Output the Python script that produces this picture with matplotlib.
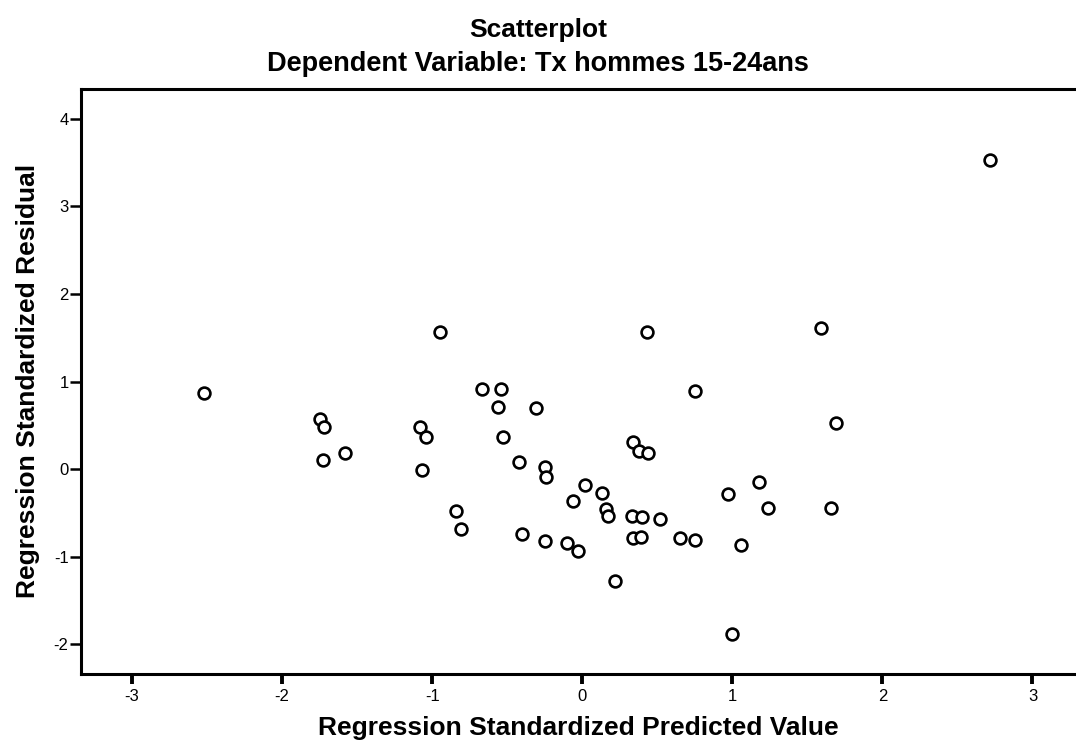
import numpy as np
import matplotlib.pyplot as plt

plt.rcParams['font.family'] = ['Liberation Sans', 'DejaVu Sans']
plt.rcParams['axes.unicode_minus'] = False

# standardized predicted values (x) and standardized residuals (y)
pred = [-2.52, -1.75, -1.72, -1.73, -1.58, -1.08, -1.04, -1.07, -0.95, -0.84,
        -0.81, -0.67, -0.54, -0.56, -0.53, -0.42, -0.40, -0.31, -0.25, -0.24,
        -0.25, -0.10, -0.06, -0.03, 0.02, 0.13, 0.155, 0.17, 0.22, 0.33,
        0.34, 0.34, 0.38, 0.39, 0.40, 0.43, 0.44, 0.52, 0.65, 0.75,
        0.75, 0.97, 1.00, 1.06, 1.18, 1.24, 1.59, 1.66, 1.69, 2.72]
resid = [0.87, 0.57, 0.48, 0.10, 0.18, 0.48, 0.37, -0.015, 1.57, -0.48,
         -0.68, 0.92, 0.91, 0.71, 0.37, 0.08, -0.74, 0.70, 0.02, -0.09,
         -0.82, -0.84, -0.37, -0.93, -0.18, -0.27, -0.46, -0.54, -1.28, -0.53,
         0.31, -0.79, 0.21, -0.77, -0.55, 1.56, 0.18, -0.57, -0.79, 0.89,
         -0.81, -0.28, -1.88, -0.87, -0.15, -0.44, 1.61, -0.45, 0.53, 3.53]

x_ticks = [-3, -2, -1, 0, 1, 2, 3]
y_ticks = [-2, -1, 0, 1, 2, 3, 4]

fig = plt.figure(figsize=(10.76, 7.49), dpi=100)
ax = fig.add_axes([0.0753, 0.1001, 0.9247, 0.7811])

ax.plot(pred, resid, 'o', mfc='white', mec='black', ms=8.5, mew=1.9, ls='none')

ax.set_xlim(-3.34, 3.29)
ax.set_ylim(-2.34, 4.34)
ax.set_xticks(x_ticks)
ax.set_yticks(y_ticks)

for s in ['left', 'bottom', 'top']:
    ax.spines[s].set_linewidth(2.2)
ax.spines['right'].set_visible(False)

ax.tick_params(axis='x', direction='out', length=7, width=2.8, labelsize=12, pad=4)
ax.tick_params(axis='y', direction='out', length=8, width=1.8, labelsize=12, pad=1)

fig.text(0.5375, 0.028, 'Regression Standardized Predicted Value', ha='center',
         va='center', fontsize=19, fontweight='bold')
fig.text(0.026, 0.4913, 'Regression Standardized Residual', ha='center',
         va='center', rotation=90, fontsize=19, fontweight='bold')

fig.text(0.5, 0.960, 'Scatterplot', ha='center', va='center',
         fontsize=19, fontweight='bold')
fig.text(0.4995, 0.915, 'Dependent Variable: Tx hommes 15-24ans', ha='center',
         va='center', fontsize=19.5, fontweight='bold')

fig.savefig('out.png', dpi=100)
